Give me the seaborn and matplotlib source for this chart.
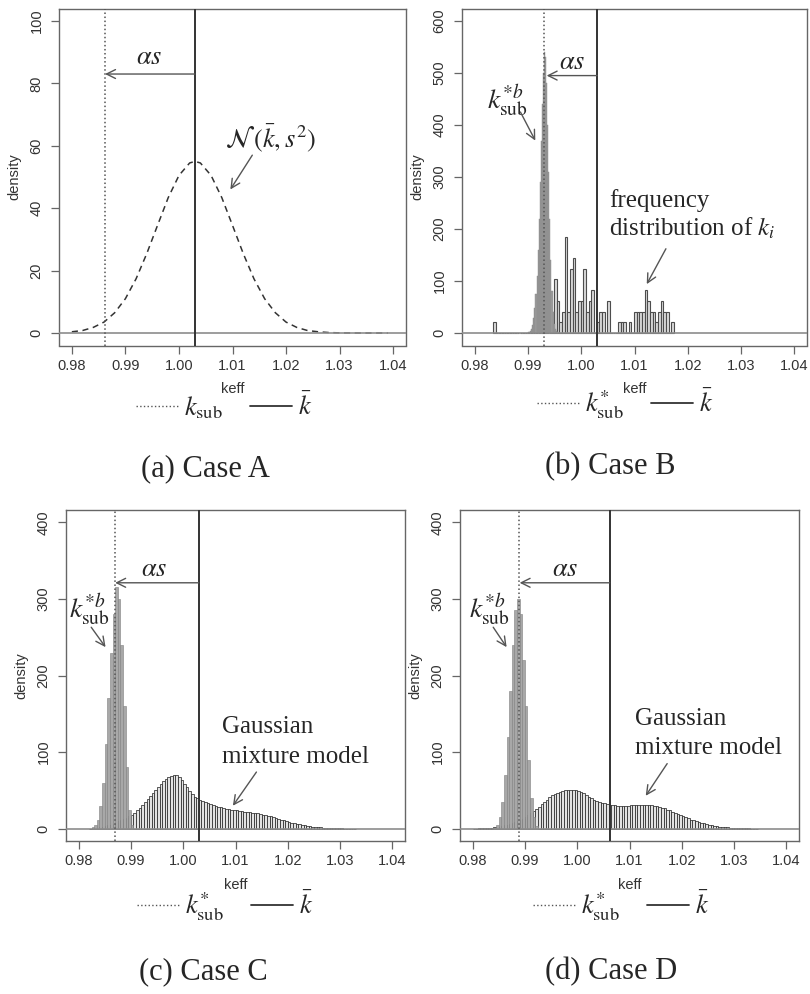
import numpy as np
import pandas as pd
import matplotlib.pyplot as plt
from matplotlib.lines import Line2D
import seaborn as sns

sns.set_style("ticks")
plt.rcParams['font.family'] = ['Liberation Sans', 'DejaVu Sans']
plt.rcParams['mathtext.fontset'] = 'stix'

# ---------------- values ----------------
xticks = [0.98, 0.99, 1.00, 1.01, 1.02, 1.03, 1.04]
xtick_labels = ['0.98', '0.99', '1.00', '1.01', '1.02', '1.03', '1.04']

# (a) normal density N(kbar, s^2), dashed
a_keff = [0.980, 0.982, 0.984, 0.986, 0.988, 0.990, 0.992, 0.994, 0.996, 0.998,
          1.000, 1.002, 1.003, 1.004, 1.006, 1.008, 1.010, 1.012, 1.014, 1.016,
          1.018, 1.020, 1.022, 1.024, 1.026, 1.028, 1.030, 1.032, 1.034, 1.036,
          1.038, 1.039]
a_density = [0.4, 0.8, 1.8, 3.5, 6.5, 11.0, 17.4, 25.5, 34.5, 43.4,
             50.5, 54.5, 55.0, 54.5, 50.5, 43.4, 34.5, 25.5, 17.4, 11.0,
             6.5, 3.5, 1.8, 0.8, 0.4, 0.15, 0.05, 0.02, 0.0, 0.0,
             0.0, 0.0]
a_kbar = 1.0030
a_ksub = 0.9862

# (b) frequency distribution of k_i (counts per bin) and bootstrap density
b_hist_start = 0.9834
b_hist_width = 0.0005
b_hist_counts = [1, 0, 0, 0, 0, 0, 0, 0, 0, 0, 0, 0, 0, 0, 0, 0, 0, 0, 0,
                 1, 0, 0, 2, 5, 3, 1, 2, 9, 2, 6, 7, 2, 3, 3, 6, 2, 3, 4, 0,
                 1, 2, 2, 0, 3, 0, 0, 0, 1, 1, 1, 0, 1, 0, 2, 2, 2, 2, 4, 3,
                 2, 2, 1, 2, 3, 2, 2, 0, 1]
b_density_per_count = 20.6
b_boot_start = 0.9900
b_boot_width = 0.0002
b_boot_density = [1, 2, 4, 8, 15, 28, 48, 75, 110, 160, 220, 290, 370, 440,
                  500, 540, 530, 480, 400, 310, 220, 140, 80, 40, 18, 7, 3, 1]
b_kbar = 1.0030
b_ksub = 0.9930

# (c) Gaussian mixture model and bootstrap density
c_mix_start = 0.9820
c_mix_width = 0.0005
c_mix_density = [0.3, 0.5, 0.8, 1.2, 1.8, 2.5, 3.3, 4.3, 5.4, 6.6,
                 8, 9.5, 11, 12.5, 14, 16, 18, 21, 24, 27,
                 31, 35, 39, 43, 47, 51, 55, 59, 62, 65,
                 67, 69, 70, 70, 68, 64, 59, 54, 49, 45,
                 42, 40, 38, 36, 35, 34, 32, 31, 30, 29,
                 28, 27, 26, 25.5, 25, 24.5, 24, 23.5, 23, 22.5,
                 22, 21.5, 21, 20.5, 20, 19, 18.5, 18, 17, 16,
                 15, 14, 13, 12, 11, 10, 9, 8, 7, 6.3,
                 5.6, 5, 4.4, 3.8, 3.3, 2.8, 2.4, 2, 1.7, 1.4,
                 1.2, 1, 0.8, 0.7, 0.6, 0.5, 0.4, 0.3, 0.3, 0.2,
                 0.2, 0.1]
c_boot_start = 0.9825
c_boot_width = 0.0005
c_boot_density = [2, 5, 12, 30, 60, 110, 170, 230, 280, 316, 300, 240, 160, 80, 25, 5]
c_kbar = 1.0030
c_ksub = 0.9870

# (d) Gaussian mixture model and bootstrap density
d_mix_start = 0.9800
d_mix_width = 0.0005
d_mix_density = [0.2, 0.3, 0.4, 0.5, 0.6, 0.8, 1.0, 1.3, 1.7, 2.2,
                 2.8, 3.5, 4.3, 5.2, 6.2, 7.3, 8.5, 10, 11.5, 13,
                 15, 17.5, 20, 23, 26, 29, 32, 35, 38, 41,
                 43.5, 45.5, 47, 48.5, 49.5, 50, 50.5, 51, 51, 50.5,
                 49.5, 48, 46, 44, 42, 40, 38, 36.5, 35, 34,
                 33, 32, 31.5, 31, 30.5, 30, 30, 30, 30, 30,
                 30.5, 30.5, 31, 31, 31, 31, 31, 31, 30.5, 30,
                 29.5, 28.5, 27.5, 26.5, 25, 24, 22.5, 21, 19.5, 18,
                 16.5, 15, 13.5, 12, 11, 10, 9, 8, 7, 6,
                 5.3, 4.6, 4, 3.4, 2.9, 2.4, 2, 1.7, 1.4, 1.2,
                 1, 0.8, 0.7, 0.6, 0.5, 0.4, 0.3, 0.2, 0.1]
d_boot_start = 0.9840
d_boot_width = 0.0005
d_boot_density = [1, 5, 15, 35, 70, 120, 180, 240, 285, 300, 280, 220, 160, 90, 40, 15, 4]
d_kbar = 1.0062
d_ksub = 0.9888

W, H = 810, 994
fig = plt.figure(figsize=(W / 100, H / 100), dpi=100)


def add_panel(left, top, width, height):
    return fig.add_axes([left / W, 1 - (top + height) / H, width / W, height / H])


def bars(ax, start, width, heights, **kw):
    heights = np.asarray(heights, dtype=float)
    n = len(heights)
    edges = (start + width * np.arange(n + 1)).tolist()
    df = pd.DataFrame({'keff': start + width * (np.arange(n) + 0.5),
                       'h': heights})
    sns.histplot(data=df, x='keff', weights='h', bins=edges, ax=ax, alpha=1,
                 **kw)


def style(ax, yticks, ylim):
    ax.set_xlim(0.9776, 1.0424)
    ax.set_ylim(*ylim)
    ax.set_xticks(xticks)
    ax.set_xticklabels(xtick_labels)
    ax.set_yticks(yticks)
    ax.set_yticklabels([str(v) for v in yticks], rotation=90, va='center')
    for s in ax.spines.values():
        s.set_visible(True)
        s.set_color('#666666')
        s.set_linewidth(1.0)
    ax.tick_params(direction='out', length=6, width=0.9, color='#666666',
                   labelsize=10.5, labelcolor='#333333', pad=3.5)
    ax.tick_params(axis='y', pad=5)
    ax.set_xlabel('keff', fontsize=10.5, color='#333333', labelpad=7)
    ax.set_ylabel('density', fontsize=10.5, color='#333333', labelpad=6)
    ax.axhline(0, color='#8c8c8c', lw=1.2, zorder=3)


def ref_lines(ax, kbar, ksub):
    ax.axvline(kbar, color='#333333', lw=1.4, zorder=5)
    ax.axvline(ksub, color='#555555', lw=1.1, ls=':', zorder=5)


def arrow(ax, start, end):
    ax.annotate('', xy=end, xytext=start,
                arrowprops=dict(arrowstyle='->', color='#555555', lw=1.0,
                                mutation_scale=16, shrinkA=0, shrinkB=0),
                zorder=6)


def legend(x, y, sub_label):
    handles = [Line2D([], [], color='#555555', lw=1.0, ls=':'),
               Line2D([], [], color='#333333', lw=1.3)]
    fig.legend(handles=handles, labels=[sub_label, r'$\bar{k}$'], ncol=2,
               loc='center', bbox_to_anchor=(x / W, 1 - y / H), frameon=False,
               fontsize=19, handlelength=1.6, handletextpad=0.25,
               columnspacing=1.0)


def caption(x, y, text):
    fig.text(x / W, 1 - y / H, text, ha='center', va='center', fontsize=22,
             family='Liberation Serif')


serif = 'Liberation Serif'
mix_kw = dict(color='#e3e3e3', edgecolor='#1e1e1e', linewidth=0.5)
boot_kw = dict(color='#a8a8a8', edgecolor='#7f7f7f', linewidth=0.4)

# ---------------- (a) ----------------
ax = add_panel(59, 8.5, 347, 337)
sns.lineplot(x=a_keff, y=a_density, ax=ax, color='#333333', lw=1.1,
             linestyle=(0, (4, 3)))
ref_lines(ax, a_kbar, a_ksub)
style(ax, [0, 20, 40, 60, 80, 100], (-4, 104))
arrow(ax, (a_kbar, 83), (a_ksub, 83))
ax.text(0.9945, 88.5, r'$\alpha s$', fontsize=19, ha='center', va='center')
ax.text(1.0172, 62.5, r'$\mathcal{N}\,(\bar{k},s^2)$', fontsize=19,
        ha='center', va='center')
arrow(ax, (1.0137, 57), (1.0096, 46))
legend(224, 407, r'$k_{\mathrm{sub}}$')
caption(205, 469, '(a) Case A')

# ---------------- (b) ----------------
ax = add_panel(462, 8.5, 345, 337)
bars(ax, b_hist_start, b_hist_width,
     np.asarray(b_hist_counts) * b_density_per_count,
     color='#dadada', edgecolor='#4d4d4d', linewidth=0.8)
bars(ax, b_boot_start, b_boot_width, b_boot_density,
     color='#9c9c9c', edgecolor='#8a8a8a', linewidth=0.3)
ref_lines(ax, b_kbar, b_ksub)
style(ax, [0, 100, 200, 300, 400, 500, 600], (-24, 624))
arrow(ax, (b_kbar, 495), (0.9935, 495))
ax.text(0.9982, 521, r'$\alpha s$', fontsize=19, ha='center', va='center')
ax.text(0.9861, 447, r'$k^{*b}_{\mathrm{sub}}$', fontsize=20, ha='center',
        va='center')
arrow(ax, (0.98857, 425), (0.99137, 370))
ax.text(1.0053, 255, 'frequency', fontsize=18, family=serif, ha='left',
        va='center')
ax.text(1.0053, 201, r'distribution of $k_i$', fontsize=18, family=serif,
        ha='left', va='center')
arrow(ax, (1.0159, 162), (1.0123, 94))
legend(625, 405, r'$k^{*}_{\mathrm{sub}}$')
caption(610, 467, '(b) Case B')

# ---------------- (c) ----------------
ax = add_panel(66, 510, 339, 331)
bars(ax, c_mix_start, c_mix_width, c_mix_density, **mix_kw)
bars(ax, c_boot_start, c_boot_width, c_boot_density, **boot_kw)
ref_lines(ax, c_kbar, c_ksub)
style(ax, [0, 100, 200, 300, 400], (-16, 416))
arrow(ax, (c_kbar, 321), (c_ksub, 321))
ax.text(0.9945, 339, r'$\alpha s$', fontsize=19, ha='center', va='center')
ax.text(0.9821, 285, r'$k^{*b}_{\mathrm{sub}}$', fontsize=20, ha='center',
        va='center')
arrow(ax, (0.98242, 263), (0.98516, 237))
ax.text(1.0075, 133, 'Gaussian', fontsize=18, family=serif, ha='left',
        va='center')
ax.text(1.0075, 94, 'mixture model', fontsize=18, family=serif, ha='left',
        va='center')
arrow(ax, (1.0140, 74), (1.0095, 30))
legend(225, 907, r'$k^{*}_{\mathrm{sub}}$')
caption(203, 972, '(c) Case C')

# ---------------- (d) ----------------
ax = add_panel(460, 510, 339, 331)
bars(ax, d_mix_start, d_mix_width, d_mix_density, **mix_kw)
bars(ax, d_boot_start, d_boot_width, d_boot_density, **boot_kw)
ref_lines(ax, d_kbar, d_ksub)
style(ax, [0, 100, 200, 300, 400], (-16, 416))
arrow(ax, (d_kbar, 321), (0.9890, 321))
ax.text(0.9977, 339, r'$\alpha s$', fontsize=19, ha='center', va='center')
ax.text(0.9833, 285, r'$k^{*b}_{\mathrm{sub}}$', fontsize=20, ha='center',
        va='center')
arrow(ax, (0.98395, 263), (0.98651, 237))
ax.text(1.0110, 143, 'Gaussian', fontsize=18, family=serif, ha='left',
        va='center')
ax.text(1.0110, 106, 'mixture model', fontsize=18, family=serif, ha='left',
        va='center')
arrow(ax, (1.0172, 85), (1.0131, 43))
legend(621, 907, r'$k^{*}_{\mathrm{sub}}$')
caption(611, 972, '(d) Case D')

fig.savefig('out.png', dpi=100)
